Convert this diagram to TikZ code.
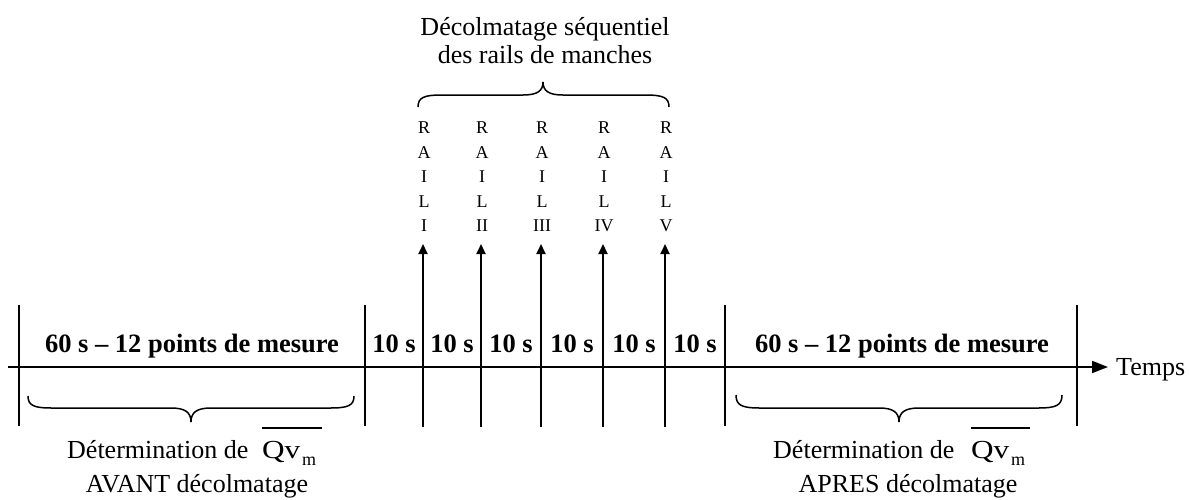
\documentclass[tikz,border=0pt]{standalone}
\usepackage{fontspec}
\setmainfont{Liberation Serif}
\usetikzlibrary{arrows.meta}
\newcommand\drawbrace[6]{%
  \draw[bracepath] (#1,#4) .. controls (#1,{#4+0.8*(#5-#4)}) and ({#1+6},#5) .. ({#1+24},#5)
    -- ({#2-20},#5) .. controls ({#2-6},#5) and (#2,{#5+0.3*(#6-#5)}) .. (#2,#6)
    .. controls (#2,{#5+0.3*(#6-#5)}) and ({#2+6},#5) .. ({#2+20},#5)
    -- ({#3-24},#5) .. controls ({#3-6},#5) and (#3,{#4+0.8*(#5-#4)}) .. (#3,#4);}
\begin{document}
\begin{tikzpicture}[x=1pt,y=-1pt,
  ln/.style={line width=2pt},
  railarrow/.style={line width=2pt,-{Triangle[length=10pt,width=9pt]}},
  axisarrow/.style={line width=2pt,-{Triangle[length=16pt,width=12pt]}},
  bracepath/.style={line width=1.5pt},
  lbl/.style={inner sep=0pt,anchor=base,font=\fontsize{26}{30}\selectfont},
  blbl/.style={inner sep=0pt,anchor=base,font=\fontsize{26.5}{30}\selectfont\bfseries},
  sublbl/.style={inner sep=0pt,anchor=base west,font=\fontsize{18}{20}\selectfont},
  raillbl/.style={inner sep=0pt,anchor=north,align=center,font=\fontsize{18}{24.5}\selectfont}]
\useasboundingbox (0,0) rectangle (1190,499);
% axis
\coordinate (a0) at (8,367);
\coordinate (a1) at (1108,367);
\draw[axisarrow] (a0) -- (a1);
\node[lbl,anchor=base west] (temps) at (1116,375) {Temps};
% ticks
\foreach \x [count=\i] in {19,365,725,1077}{
  \coordinate (tt\i) at (\x,305);
  \coordinate (tb\i) at (\x,426);
  \draw[ln] (tt\i) -- (tb\i);
}
% rails
\foreach \x/\r [count=\i] in {423/I,481/II,541/III,603/IV,665/V}{
  \coordinate (rb\i) at (\x,427);
  \coordinate (rt\i) at (\x,244);
  \draw[railarrow] (rb\i) -- (rt\i);
  \node[raillbl] (rail\i) at ({\x+1},122) {R\\A\\I\\L\\\r};
}
% 10 s labels
\foreach \x [count=\i] in {394,452,511,572,634,695}{
  \node[blbl] (ten\i) at (\x,352) {10 s};
}
\node[blbl] (mesA) at (192,352) {60 s -- 12 points de mesure};
\node[blbl] (mesB) at (902,352) {60 s -- 12 points de mesure};
% braces
\drawbrace{28}{191}{354}{396}{408}{422}
\drawbrace{736}{899}{1062}{395}{408}{422}
\drawbrace{418}{543}{669}{107}{95}{82}
% top text
\node[lbl] (top1) at (545,35) {Décolmatage séquentiel};
\node[lbl] (top2) at (545,63) {des rails de manches};
% bottom left
\node[lbl,anchor=base west] (detA) at (67,458) {Détermination de};
\node[lbl,anchor=base west] (qvA) at (262,458) {\scalebox{1.2}[1]{Qv}};
\node[sublbl] (mA) at (302,465) {m};
\draw[line width=1.2pt] (262,428) -- (322,428);
\node[lbl] (avant) at (197,492) {AVANT décolmatage};
% bottom right
\node[lbl,anchor=base west] (detB) at (773,458) {Détermination de};
\node[lbl,anchor=base west] (qvB) at (971,458) {\scalebox{1.2}[1]{Qv}};
\node[sublbl] (mB) at (1011,465) {m};
\draw[line width=1.2pt] (971,428) -- (1030,428);
\node[lbl] (apres) at (908,492) {APRES décolmatage};
\end{tikzpicture}
\end{document}
